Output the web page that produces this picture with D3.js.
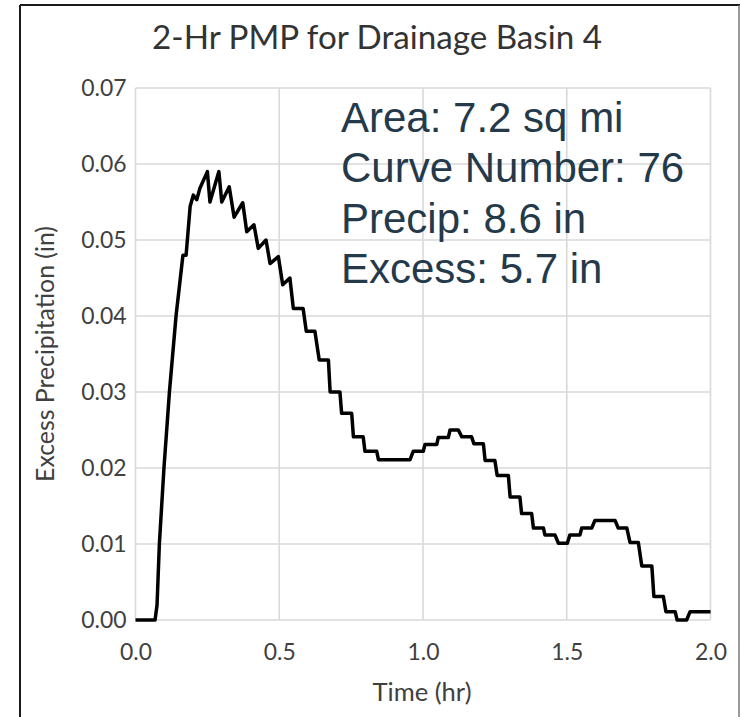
<!DOCTYPE html>
<html>
<head>
<meta charset="utf-8">
<script src="https://cdn.jsdelivr.net/npm/d3@7"></script>
<style>
  html, body { margin: 0; padding: 0; background: #fff; }
  svg { display: block; }
</style>
</head>
<body>
<svg id="chart" width="740" height="717"></svg>
<script>
// ---- Data ----
const chartTitle = "2-Hr PMP for Drainage Basin 4";
const xAxisTitle = "Time (hr)";
const yAxisTitle = "Excess Precipitation (in)";
const xTicks = [0, 0.5, 1.0, 1.5, 2.0];
const yTicks = [0, 0.01, 0.02, 0.03, 0.04, 0.05, 0.06, 0.07];
const infoLines = ["Area: 7.2 sq mi", "Curve Number: 76", "Precip: 8.6 in", "Excess: 5.7 in"];

const timeHr = [0, 0.068, 0.075, 0.083, 0.099, 0.118, 0.141, 0.165, 0.176, 0.190,
  0.201, 0.213, 0.224, 0.250, 0.259, 0.290, 0.300, 0.326, 0.343, 0.373,
  0.387, 0.412, 0.427, 0.454, 0.468, 0.497, 0.512, 0.537, 0.549, 0.583,
  0.594, 0.624, 0.639, 0.671, 0.677, 0.711, 0.717, 0.752, 0.758, 0.792,
  0.798, 0.839, 0.845, 0.955, 0.966, 1.001, 1.007, 1.048, 1.053, 1.088,
  1.094, 1.123, 1.135, 1.169, 1.177, 1.210, 1.216, 1.250, 1.258, 1.297,
  1.303, 1.337, 1.343, 1.378, 1.384, 1.419, 1.424, 1.459, 1.471, 1.502,
  1.511, 1.546, 1.552, 1.587, 1.598, 1.668, 1.679, 1.709, 1.720, 1.749,
  1.761, 1.796, 1.803, 1.836, 1.845, 1.877, 1.884, 1.917, 1.929, 2.0];
const excessIn = [0, 0, 0.002, 0.010, 0.020, 0.030, 0.040, 0.048, 0.048, 0.0544,
  0.0559, 0.0553, 0.0568, 0.059, 0.055, 0.059, 0.055, 0.057, 0.053, 0.0549,
  0.0511, 0.052, 0.0489, 0.050, 0.0469, 0.0478, 0.0441, 0.045, 0.041, 0.041,
  0.038, 0.038, 0.0342, 0.0342, 0.030, 0.030, 0.0272, 0.0272, 0.0241, 0.0241,
  0.0222, 0.0222, 0.0211, 0.0211, 0.0222, 0.0222, 0.0231, 0.0231, 0.024, 0.024,
  0.025, 0.025, 0.0241, 0.0241, 0.0232, 0.0232, 0.021, 0.021, 0.019, 0.019,
  0.0162, 0.0162, 0.014, 0.014, 0.0121, 0.0121, 0.0112, 0.0112, 0.0101, 0.0101,
  0.0112, 0.0112, 0.0121, 0.0121, 0.0131, 0.0131, 0.0121, 0.0121, 0.0102, 0.0102,
  0.0071, 0.0071, 0.0031, 0.0031, 0.0011, 0.0011, 0, 0, 0.0011, 0.0011];

// ---- Layout ----
const svg = d3.select("#chart");
const plot = { left: 135.5, right: 710.5, top: 88, bottom: 620 };
const labelFont = "Lato, 'Open Sans', 'Noto Sans', sans-serif";
const textColor = "#404040";

const x = d3.scaleLinear().domain([0, 2]).range([plot.left, plot.right]);
const y = d3.scaleLinear().domain([0, 0.07]).range([plot.bottom, plot.top]);

function fitWidth(sel, target) {
  const node = sel.node();
  const fs = parseFloat(sel.attr("font-size"));
  const w = node.getComputedTextLength();
  if (w > 0) sel.attr("font-size", (fs * target / w).toFixed(2));
  return sel;
}

// chart frame
svg.append("line").attr("x1", 20).attr("x2", 20).attr("y1", 5).attr("y2", 717)
  .attr("stroke", "#1a1a1a").attr("stroke-width", 2);
svg.append("line").attr("x1", 20).attr("x2", 740).attr("y1", 5).attr("y2", 5)
  .attr("stroke", "#1a1a1a").attr("stroke-width", 2);
svg.append("line").attr("x1", 739).attr("x2", 739).attr("y1", 5).attr("y2", 717)
  .attr("stroke", "#777").attr("stroke-width", 1.5);

// gridlines
const grid = svg.append("g");
grid.selectAll("line.h").data(yTicks).join("line")
  .attr("x1", plot.left).attr("x2", plot.right)
  .attr("y1", d => y(d)).attr("y2", d => y(d))
  .attr("stroke", "#d9d9d9").attr("stroke-width", 1.6);
grid.selectAll("line.v").data(xTicks).join("line")
  .attr("x1", d => x(d)).attr("x2", d => x(d))
  .attr("y1", plot.top).attr("y2", plot.bottom)
  .attr("stroke", "#d9d9d9").attr("stroke-width", 1.6);

// axes (labels only, Excel style)
const xAxis = d3.axisBottom(x).tickValues(xTicks).tickFormat(d3.format(".1f")).tickSize(0).tickPadding(0);
const gx = svg.append("g").attr("transform", `translate(0,${plot.bottom})`).call(xAxis);
gx.select(".domain").remove();
gx.selectAll("text").attr("font-family", labelFont).attr("font-size", 24)
  .attr("fill", textColor).attr("dy", null).attr("y", 40);

const yAxis = d3.axisLeft(y).tickValues(yTicks).tickFormat(d3.format(".2f")).tickSize(0).tickPadding(0);
const gy = svg.append("g").attr("transform", `translate(${plot.left},0)`).call(yAxis);
gy.select(".domain").remove();
gy.selectAll("text").attr("font-family", labelFont).attr("font-size", 24)
  .attr("fill", textColor).attr("x", -9).attr("dy", "0.34em");

// fit tick label size to the reference width of "0.0"
const refTick = gx.select("text");
fitWidth(refTick, 32);
const tickSize = refTick.attr("font-size");
gx.selectAll("text").attr("font-size", tickSize);
gy.selectAll("text").attr("font-size", tickSize);

// line
const line = d3.line().x((d, i) => x(timeHr[i])).y(d => y(d));
svg.append("path").datum(excessIn)
  .attr("d", line)
  .attr("fill", "none").attr("stroke", "#000").attr("stroke-width", 3.5)
  .attr("stroke-linejoin", "round");

// title
const t = svg.append("text").text(chartTitle)
  .attr("x", 377).attr("y", 49).attr("text-anchor", "middle")
  .attr("font-family", labelFont).attr("font-size", 36).attr("fill", "#333");
fitWidth(t, 450);

// axis titles
const xt = svg.append("text").text(xAxisTitle)
  .attr("x", 422).attr("y", 701).attr("text-anchor", "middle")
  .attr("font-family", labelFont).attr("font-size", 26).attr("fill", textColor);
fitWidth(xt, 99);

const yt = svg.append("text").text(yAxisTitle)
  .attr("transform", `translate(54,${(plot.top + plot.bottom) / 2}) rotate(-90)`)
  .attr("text-anchor", "middle")
  .attr("font-family", labelFont).attr("font-size", 26).attr("fill", textColor);
fitWidth(yt, 256);

// info text box
const info = svg.append("text")
  .attr("font-family", "'Liberation Sans', Arial, sans-serif")
  .attr("font-size", 42).attr("fill", "#243a4a");
info.selectAll("tspan").data(infoLines).join("tspan")
  .attr("x", 341).attr("y", (d, i) => [131.7, 181.7, 233, 282.7][i])
  .text(d => d);
</script>
</body>
</html>
